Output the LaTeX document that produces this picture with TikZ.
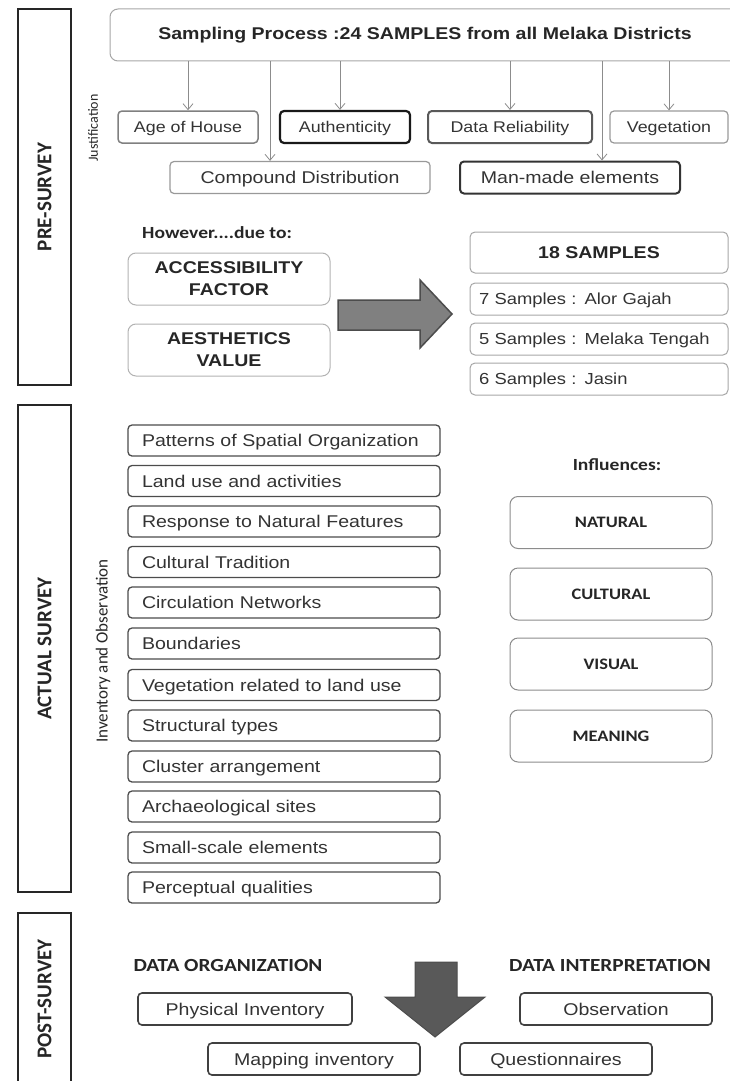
\documentclass[tikz,border=0pt]{standalone}
\usepackage{fontspec}
\setmainfont{Liberation Sans}[FakeStretch=1.15]
\newfontfamily\calib{Carlito}[FakeStretch=1.15]
\newfontfamily\calibup{Carlito}
\usetikzlibrary{arrows.meta}

\begin{document}
\begin{tikzpicture}[x=1pt, y=-1pt,
    band/.style={draw=black!85, line width=1.2pt, rotate=90, minimum height=53, inner sep=0pt,
        font=\calibup\bfseries\fontsize{21}{23}\selectfont, text=black!85},
    side/.style={rotate=90, inner sep=0pt, font=\calibup\fontsize{14}{16}\selectfont, text=black!85},
    just/.style={draw, rounded corners=4pt, minimum height=32, inner sep=0pt, text=black!80,
        text height=11, text depth=0, font=\fontsize{15.5}{17}\selectfont},
    link/.style={draw=black!45, line width=0.8pt, -{Straight Barb[length=6pt, width=10pt]}},
    head/.style={inner sep=0pt, font=\calib\bfseries\fontsize{17}{19}\selectfont, text=black!85},
    factor/.style={draw=black!30, line width=1pt, rounded corners=8pt, minimum width=202, minimum height=52,
        inner sep=0pt, align=center, font=\bfseries\fontsize{17}{22}\selectfont, text=black!85},
    sample/.style={draw=black!35, line width=1pt, rounded corners=5pt, minimum height=32, text width=240,
        inner xsep=9, inner ysep=0pt, text height=11.5, text depth=0, align=left,
        font=\fontsize{16}{18}\selectfont, text=black!80},
    item/.style={draw=black!70, line width=1.3pt, rounded corners=4pt, minimum height=31, text width=284,
        inner xsep=14, inner ysep=0pt, text height=12, text depth=0, align=left,
        font=\fontsize{17}{19}\selectfont, text=black!80},
    influence/.style={draw=black!45, line width=1pt, rounded corners=8pt, minimum width=202, minimum height=52,
        inner sep=0pt, font=\calib\bfseries\fontsize{16}{18}\selectfont, text=black!85},
    post/.style={draw=black!75, line width=1.6pt, rounded corners=4pt, minimum height=32, inner sep=0pt,
        text height=12, text depth=0, font=\fontsize{17}{19}\selectfont, text=black!80}]
\useasboundingbox (0,0) rectangle (730,1081);

\node[band, minimum width=376] (pre) at (44.5,197) {PRE-SURVEY};
\node[band, minimum width=487] (actual) at (44.5,648.5) {ACTUAL SURVEY};
\node[band, minimum width=172] (postband) at (44.5,999) {POST-SURVEY};
\node[side] (justlabel) at (93,128) {Justification};
\node[side, font=\calibup\fontsize{17}{19}\selectfont] (invlabel) at (103,651) {Inventory and Observation};

\node[draw=black!35, line width=1pt, rounded corners=8pt, minimum width=630, minimum height=52, inner sep=0pt,
    font=\bfseries\fontsize{17}{19}\selectfont, text=black!85] (samp) at (425,35)
    {Sampling Process :24 SAMPLES from all Melaka Districts};

\node[just, draw=black!50, line width=1.5pt, minimum width=140] (age) at (188,127) {Age of House};
\node[just, draw=black!90, line width=2.2pt, minimum width=130] (auth) at (345,127) {Authenticity};
\node[just, draw=black!65, line width=2pt, minimum width=164] (data) at (510,127) {Data Reliability};
\node[just, draw=black!40, line width=1.2pt, minimum width=118] (veg) at (669,127) {Vegetation};
\node[just, draw=black!40, line width=1.2pt, minimum width=260, text height=12, font=\fontsize{17}{19}\selectfont] (comp) at (300,177.5) {Compound Distribution};
\node[just, draw=black!80, line width=2pt, minimum width=220, text height=12, font=\fontsize{17}{19}\selectfont] (man) at (570,177.5) {Man-made elements};

\draw[link] (samp.south -| age.north) -- (age.north);
\draw[link] ([xshift=-30pt]comp.north |- samp.south) -- ([xshift=-30pt]comp.north);
\draw[link] ([xshift=-5pt]auth.north |- samp.south) -- ([xshift=-5pt]auth.north);
\draw[link] (samp.south -| data.north) -- (data.north);
\draw[link] ([xshift=32pt]man.north |- samp.south) -- ([xshift=32pt]man.north);
\draw[link] (samp.south -| veg.north) -- (veg.north);

\node[head, anchor=west] (however) at (142,233) {However....due to:};
\node[factor] (access) at (229,279) {ACCESSIBILITY\\FACTOR};
\node[factor] (aest) at (229,350) {AESTHETICS\\VALUE};
\draw[fill=black!50, draw=black!70, line width=1.5pt, line join=miter]
    (338,300) -- (420,300) -- (420,280) -- (452,314) -- (420,348) -- (420,330) -- (338,330) -- cycle;

\node[draw=black!35, line width=1pt, rounded corners=5pt, minimum width=258, minimum height=41, inner sep=0pt,
    font=\bfseries\fontsize{17}{19}\selectfont, text=black!85] (s18) at (599,252.5) {18 SAMPLES};
\node[sample] (s7) at (599,299) {7 Samples : Alor Gajah};
\node[sample] (s5) at (599,339) {5 Samples : Melaka Tengah};
\node[sample] (s6) at (599,379) {6 Samples : Jasin};

\node[item] (i1) at (284,440.5) {Patterns of Spatial Organization};
\node[item] (i2) at (284,481) {Land use and activities};
\node[item] (i3) at (284,521.5) {Response to Natural Features};
\node[item] (i4) at (284,562) {Cultural Tradition};
\node[item] (i5) at (284,602.5) {Circulation Networks};
\node[item] (i6) at (284,643.5) {Boundaries};
\node[item] (i7) at (284,685) {Vegetation related to land use};
\node[item] (i8) at (284,725.5) {Structural types};
\node[item] (i9) at (284,766.5) {Cluster arrangement};
\node[item] (i10) at (284,806.5) {Archaeological sites};
\node[item] (i11) at (284,847.5) {Small-scale elements};
\node[item] (i12) at (284,887.5) {Perceptual qualities};

\node[head] (influences) at (617,465) {Influences:};
\node[influence] (natural) at (611,522.5) {NATURAL};
\node[influence] (cultural) at (611,594) {CULTURAL};
\node[influence] (visual) at (611,664) {VISUAL};
\node[influence] (meaning) at (611,736) {MEANING};

\node[head, font=\calib\bfseries\fontsize{18.5}{20}\selectfont] (dorg) at (228,965) {DATA ORGANIZATION};
\node[head, font=\calib\bfseries\fontsize{18.5}{20}\selectfont] (dint) at (610,965) {DATA INTERPRETATION};
\node[post, minimum width=214] (phys) at (245,1009) {Physical Inventory};
\node[post, minimum width=212] (mapinv) at (314,1059) {Mapping inventory};
\node[post, minimum width=192] (quest) at (556,1059) {Questionnaires};
\node[post, minimum width=192] (obs) at (616,1009) {Observation};
\draw[fill=black!65, draw=black!70, line width=1pt, line join=miter]
    (415,962) -- (457,962) -- (457,997) -- (485,997) -- (435,1037) -- (385,997) -- (415,997) -- cycle;
\end{tikzpicture}
\end{document}
